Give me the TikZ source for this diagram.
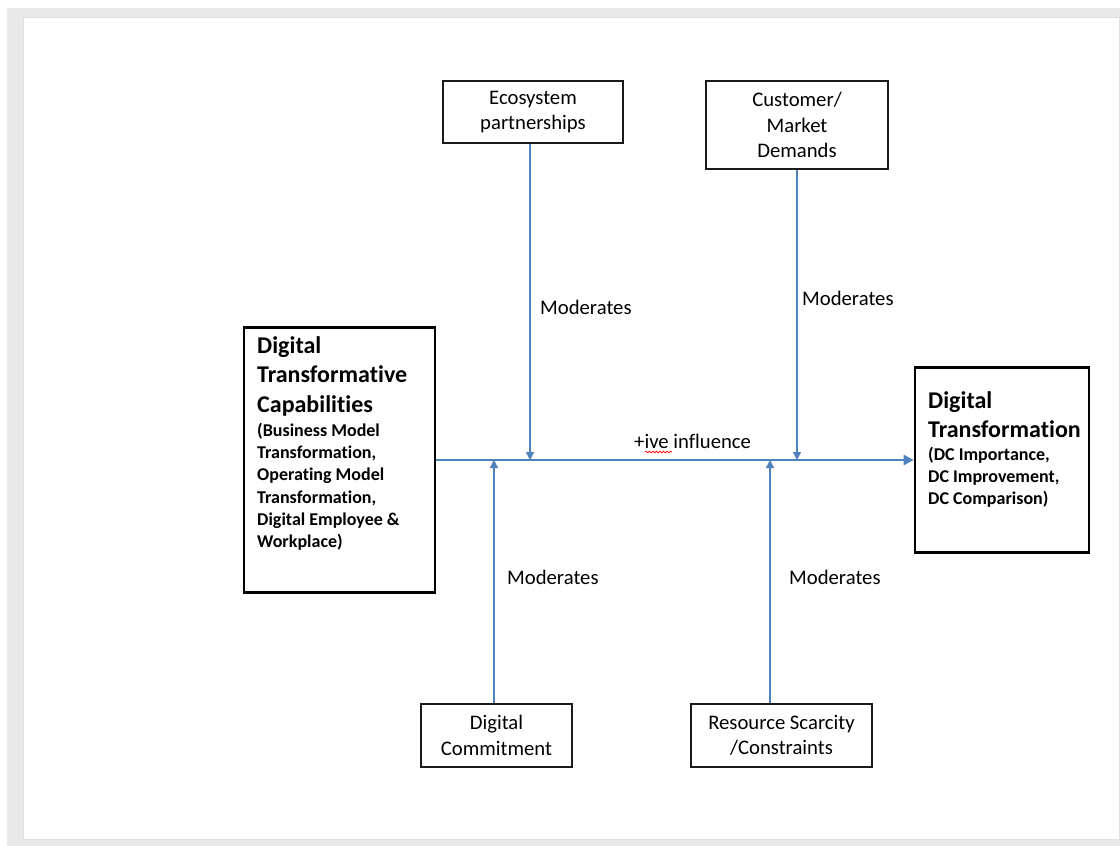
\documentclass[tikz,border=0pt]{standalone}
\usepackage{fontspec}
\setmainfont{Carlito}[RawFeature={-liga;-clig;-calt;-dlig}]
\usetikzlibrary{arrows.meta,decorations.pathmorphing}
\definecolor{linkblue}{HTML}{4F81BD}
\definecolor{pagegrey}{HTML}{E9E9E9}
\definecolor{boxline}{HTML}{1A1A1A}

\begin{document}
\begin{tikzpicture}[x=1pt,y=-1pt,
  every node/.style={inner sep=0pt, text=black},
  txt/.style={font=\fontsize{20.7}{25.5}\selectfont, align=center},
  bigtitle/.style={font=\fontsize{24}{29.5}\selectfont\bfseries, align=left},
  bigdetail/.style={font=\fontsize{18}{22.2}\selectfont\bfseries, align=left},
  smallbox/.style={draw=boxline, line width=1.4pt, minimum width=#1},
  bigbox/.style={draw=black, line width=2.6pt},
  mainlink/.style={draw=linkblue, line width=2.6pt, -{Triangle[length=10pt,width=10pt]}},
  modlink/.style={draw=linkblue, line width=1.4pt, -{Triangle[length=8pt,width=8pt]}}
]
\useasboundingbox (0,0) rectangle (1120,846);

% page on a grey desk
\fill[pagegrey] (7,8) rectangle (1120,846);
\fill[white] (23,17) rectangle (1119,839);
\draw[black!12, line width=1pt] (23,17) rectangle (1119,839);

% main constructs
\node[bigbox, minimum width=191pt, minimum height=265pt] (dtc) at (339.5,460) {};
\node[bigtitle, anchor=north west] (dtctitle) at (257,336)
  {Digital\\Transformative\\Capabilities};
\node[bigdetail, anchor=north west] (dtcdetail) at (257,423)
  {(Business Model\\Transformation,\\Operating Model\\Transformation,\\Digital Employee \&\\Workplace)};

\node[bigbox, minimum width=174pt, minimum height=185pt] (dt) at (1002,460) {};
\node[bigtitle, anchor=north west] (dttitle) at (928,391)
  {Digital\\Transformation};
\node[bigdetail, anchor=north west] (dtdetail) at (928,447)
  {(DC Importance,\\DC Improvement,\\DC Comparison)};

% moderators
\node[smallbox=180pt, minimum height=62pt, txt] (eco) at (533,112)
  {Ecosystem\\partnerships};
\node[smallbox=182pt, minimum height=88pt, txt] (cust) at (797,125)
  {Customer/\\Market\\Demands};
\node[smallbox=151pt, minimum height=63pt, txt] (commit) at (496.5,735.5)
  {Digital\\Commitment};
\node[smallbox=181pt, minimum height=63pt, txt] (res) at (781.5,735.5)
  {Resource Scarcity\\/Constraints};

% junctions on the main path
\coordinate (j1) at (530,460);
\coordinate (j2) at (797,460);
\coordinate (j3) at (494,460);
\coordinate (j4) at (770,460);

% connectors
\draw[mainlink] (dtc.east) -- (dt.west);
\draw[modlink] (eco.south -| j1) -- (j1);
\draw[modlink] (cust.south -| j2) -- (j2);
\draw[modlink] (commit.north -| j3) -- (j3);
\draw[modlink] (res.north -| j4) -- (j4);

% labels
\node[txt, anchor=west] (lab1) at (540,307) {Moderates};
\node[txt, anchor=west] (lab2) at (802,298) {Moderates};
\node[txt, anchor=west] (lab3) at (507,577) {Moderates};
\node[txt, anchor=west] (lab4) at (789,577) {Moderates};
\node[txt, anchor=west] (infl) at (634,441) {+ive influence};
\draw[red, line width=0.7pt, decorate,
  decoration={snake, segment length=3.5pt, amplitude=0.9pt}]
  (645,452) -- (672,452);
\end{tikzpicture}
\end{document}
